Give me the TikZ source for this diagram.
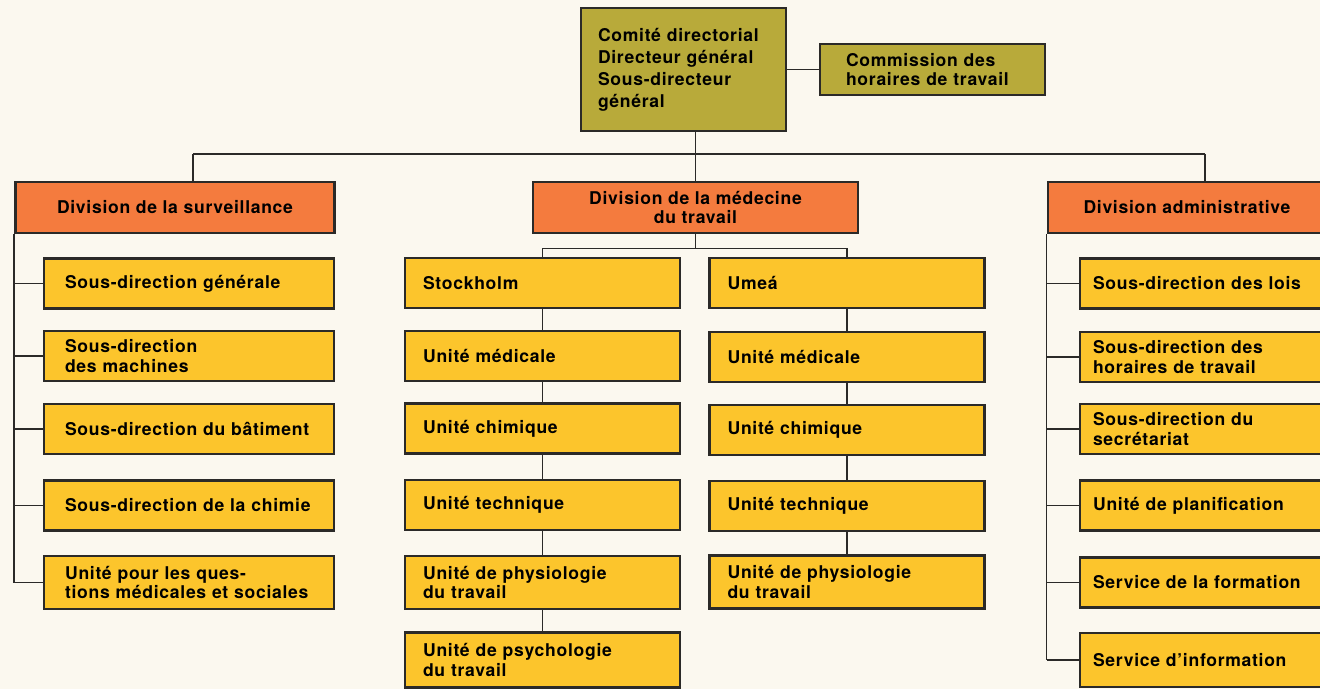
\documentclass[tikz,border=0pt]{standalone}
\usepackage{fontspec}
\setmainfont[LetterSpace=4]{TeX Gyre Heros}
\definecolor{paper}{HTML}{FBF8EF}
\definecolor{ink}{HTML}{2B2A28}
\definecolor{olivetop}{HTML}{B8AA3A}
\definecolor{orangehead}{HTML}{F47B3E}
\definecolor{unityellow}{HTML}{FCC52C}

\begin{document}
\begin{tikzpicture}[x=0.02cm, y=-0.02cm,
	box/.style={draw=ink, line width=1.6pt, font=\bfseries\fontsize{10}{11}\selectfont, inner ysep=0pt, minimum height=1cm},
	head/.style={box, fill=orangehead, align=center, inner xsep=0pt, minimum height=1.02cm},
	unit/.style={box, fill=unityellow, align=left},
	leftunit/.style={unit, text width=4.96cm, inner xsep=0.42cm},
	midunit/.style={unit, text width=4.78cm, inner xsep=0.36cm},
	rightunit/.style={unit, text width=4.68cm, inner xsep=0.26cm},
	link/.style={draw=ink, line width=0.9pt}]
	\useasboundingbox (0,0) rectangle (1320,689);
	\clip (0,0) rectangle (1320,689);
	\fill[paper] (0,0) rectangle (1320,689);

	\node[box, fill=olivetop, align=left, text width=3.42cm, inner xsep=0.34cm, minimum height=2.46cm, font=\bfseries\fontsize{10}{12.5}\selectfont](comite) at (683.5,69.5) {Comité directorial\\Directeur général\\Sous-directeur\\général};
	\node[box, fill=olivetop, align=left, text width=3.46cm, inner xsep=0.52cm, minimum height=1.02cm](commission) at (932.5,69.5) {Commission des\\horaires de travail};

	\node[head, minimum width=6.38cm](surv) at (175,207.5) {Division de la surveillance};
	\node[head, minimum width=6.5cm](med) at (695.5,207.5) {Division de la médecine\\du travail};
	\node[head, minimum width=5.56cm](adm) at (1187,207.5) {Division administrative};

	\node[leftunit](ls1) at (189,283.5) {Sous-direction générale};
	\node[leftunit](ls2) at (189,356) {Sous-direction\\des machines};
	\node[leftunit](ls3) at (189,429) {Sous-direction du bâtiment};
	\node[leftunit](ls4) at (189,505.5) {Sous-direction de la chimie};
	\node[leftunit, minimum height=1.06cm](ls5) at (189,582.5) {Unité pour les ques-\\tions médicales et sociales};

	\node[midunit](st0) at (542.5,283) {Stockholm};
	\node[midunit](st1) at (542.5,356) {Unité médicale};
	\node[midunit](st2) at (542.5,428.5) {Unité chimique};
	\node[midunit](st3) at (542.5,505) {Unité technique};
	\node[midunit, minimum height=1.06cm](st4) at (542.5,582.5) {Unité de physiologie\\du travail};
	\node[midunit, minimum height=1.1cm](st5) at (542.5,660) {Unité de psychologie\\du travail};

	\node[midunit](um0) at (847,283) {Umeá};
	\node[midunit](um1) at (847,357) {Unité médicale};
	\node[midunit](um2) at (847,430) {Unité chimique};
	\node[midunit](um3) at (847,506) {Unité technique};
	\node[midunit, minimum height=1.06cm](um4) at (847,582) {Unité de physiologie\\du travail};

	\node[rightunit](ad1) at (1210,283.5) {Sous-direction des lois};
	\node[rightunit](ad2) at (1210,357) {Sous-direction des\\horaires de travail};
	\node[rightunit](ad3) at (1210,429) {Sous-direction du\\secrétariat};
	\node[rightunit](ad4) at (1210,505.5) {Unité de planification};
	\node[rightunit](ad5) at (1210,582.5) {Service de la formation};
	\node[rightunit, minimum height=1.08cm](ad6) at (1210,660) {Service d'information};

	\coordinate(busl) at (193,154);
	\coordinate(busr) at (1205,154);

	\draw[link](comite.east) -- (commission.west);
	\draw[link](comite.south -| med.north) -- (med.north);
	\draw[link](busl) -- (busr);
	\draw[link](busl) -- (busl |- surv.north);
	\draw[link](busr) -- (busr |- adm.north);

	\draw[link](surv.south west) -- (surv.south west |- ls5.west);
	\draw[link](surv.south west |- ls1.west) -- (ls1.west);
	\draw[link](surv.south west |- ls2.west) -- (ls2.west);
	\draw[link](surv.south west |- ls3.west) -- (ls3.west);
	\draw[link](surv.south west |- ls4.west) -- (ls4.west);
	\draw[link](surv.south west |- ls5.west) -- (ls5.west);

	\draw[link](med.south) -- ++(0,14) coordinate(medbus);
	\draw[link](st0.north) |- (medbus) -| (um0.north);
	\draw[link](st0.south) -- (st1.north);
	\draw[link](st1.south) -- (st2.north);
	\draw[link](st2.south) -- (st3.north);
	\draw[link](st3.south) -- (st4.north);
	\draw[link](st4.south) -- (st5.north);
	\draw[link](um0.south) -- (um1.north);
	\draw[link](um1.south) -- (um2.north);
	\draw[link](um2.south) -- (um3.north);
	\draw[link](um3.south) -- (um4.north);

	\draw[link](adm.south west) -- (adm.south west |- ad6.west);
	\draw[link](adm.south west |- ad1.west) -- (ad1.west);
	\draw[link](adm.south west |- ad2.west) -- (ad2.west);
	\draw[link](adm.south west |- ad3.west) -- (ad3.west);
	\draw[link](adm.south west |- ad4.west) -- (ad4.west);
	\draw[link](adm.south west |- ad5.west) -- (ad5.west);
	\draw[link](adm.south west |- ad6.west) -- (ad6.west);
\end{tikzpicture}
\end{document}
